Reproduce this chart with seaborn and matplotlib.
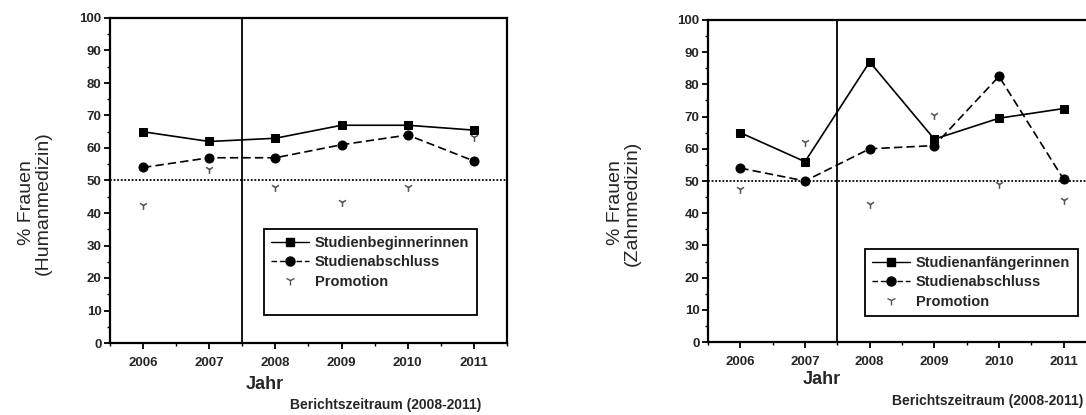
import matplotlib
matplotlib.use("Agg")
import matplotlib.pyplot as plt
import seaborn as sns
import numpy as np
from matplotlib.lines import Line2D

sns.set_style("ticks")
plt.rcParams['font.family'] = ['Liberation Sans', 'DejaVu Sans']

years = [2006, 2007, 2008, 2009, 2010, 2011]

# Humanmedizin
hm_beginn = [65, 62, 63, 67, 67, 65.5]
hm_abschluss = [54, 57, 57, 61, 64, 56]
hm_promotion = [42.5, 53.5, 48, 43.5, 48, 63.5]

# Zahnmedizin
zm_anfang = [65, 56, 87, 63, 69.5, 72.5]
zm_abschluss = [54, 50, 60, 61, 82.5, 50.5]
zm_promotion = [47.5, 62, 43, 70.5, 49, 44]

yticks = [0, 10, 20, 30, 40, 50, 60, 70, 80, 90, 100]

W, H = 1086, 415
fig = plt.figure(figsize=(W / 100, H / 100), dpi=100)


def px_axes(x0, x1, ytop, ybot):
    return fig.add_axes([x0 / W, 1 - ybot / H, (x1 - x0) / W, (ybot - ytop) / H])


def draw_panel(ax, first, second, promo, first_label, legend_box, extra_row):
    sns.lineplot(x=years, y=first, ax=ax, color='black', marker='s', markersize=6,
                 linewidth=1.2, linestyle='-', markeredgecolor='black', legend=False)
    sns.lineplot(x=years, y=second, ax=ax, color='black', marker='o', markersize=6.5,
                 linewidth=1.2, linestyle=(0, (5, 2.5)), markeredgecolor='black', legend=False)
    sns.scatterplot(x=years, y=promo, ax=ax, color='#555555', marker='1', s=40,
                    linewidth=1.1, legend=False)
    ax.axhline(50, color='black', linestyle=(0, (1, 1)), linewidth=1.3, zorder=1)
    ax.axvline(2007.5, color='black', linewidth=1.3, zorder=1)
    ax.set_xlim(2005.5, 2011.5)
    ax.set_ylim(0, 100)
    ax.set_yticks(yticks)
    ax.set_yticks(np.arange(5, 100, 10), minor=True)
    ax.set_xticks(years)
    ax.set_xticks(np.arange(2005.5, 2012, 1.0), minor=True)
    ax.set_xticklabels([str(y) for y in years], fontsize=9.5, fontweight='bold')
    ax.set_yticklabels([str(t) for t in yticks], fontsize=9.5, fontweight='bold')
    ax.tick_params(axis='both', which='major', direction='out', length=4, width=1.3, color='black')
    ax.tick_params(axis='both', which='minor', direction='out', length=2.5, width=1.0, color='black')
    ax.tick_params(axis='x', pad=6)
    ax.tick_params(axis='y', pad=2)
    for s in ax.spines.values():
        s.set_visible(True)
        s.set_linewidth(1.6)
        s.set_color('black')
    ax.set_xlabel('')
    ax.set_ylabel('')

    handles = [
        Line2D([], [], color='black', marker='s', markersize=6, linewidth=1.0, linestyle='-'),
        Line2D([], [], color='black', marker='o', markersize=6.5, linewidth=1.0, linestyle=(0, (4, 2))),
        Line2D([], [], color='#555555', marker='1', markersize=6.5, linewidth=0, linestyle='none'),
    ]
    labels = [first_label, 'Studienabschluss', 'Promotion']
    if extra_row:
        handles.append(Line2D([], [], linestyle='none', marker=None))
        labels.append(' ')
    bx, by = legend_box
    leg = ax.legend(handles, labels, loc='upper left',
                    bbox_to_anchor=(bx / W, 1 - by / H), bbox_transform=fig.transFigure,
                    prop={'size': 10.5, 'weight': 'bold'}, frameon=True, fancybox=False,
                    framealpha=1, edgecolor='black', borderaxespad=0, handlelength=2.6,
                    handletextpad=0.4, labelspacing=0.35, borderpad=0.5)
    leg.get_frame().set_linewidth(1.3)


ax1 = px_axes(110, 507, 18, 343)
draw_panel(ax1, hm_beginn, hm_abschluss, hm_promotion, 'Studienbeginnerinnen', (264, 229), True)

ax2 = px_axes(708, 1096, 20, 342)
draw_panel(ax2, zm_anfang, zm_abschluss, zm_promotion, 'Studienanfängerinnen', (865, 249), False)

# axis titles
fig.text(35 / W, 1 - 203 / H, '% Frauen\n(Humanmedizin)', rotation=90, ha='center', va='center',
         fontsize=14, multialignment='center', linespacing=0.95)
fig.text(624 / W, 1 - 203 / H, '% Frauen\n(Zahnmedizin)', rotation=90, ha='center', va='center',
         fontsize=14, multialignment='center', linespacing=0.95)

fig.text(265 / W, 1 - 384 / H, 'Jahr', ha='center', va='center', fontsize=13, fontweight='bold')
fig.text(822 / W, 1 - 380 / H, 'Jahr', ha='center', va='center', fontsize=13, fontweight='bold')

fig.text(386 / W, 1 - 405 / H, 'Berichtszeitraum (2008-2011)', ha='center', va='center',
         fontsize=10, fontweight='bold')
fig.text(988 / W, 1 - 401 / H, 'Berichtszeitraum (2008-2011)', ha='center', va='center',
         fontsize=10, fontweight='bold')

fig.savefig('out.png', dpi=100, facecolor='white')
